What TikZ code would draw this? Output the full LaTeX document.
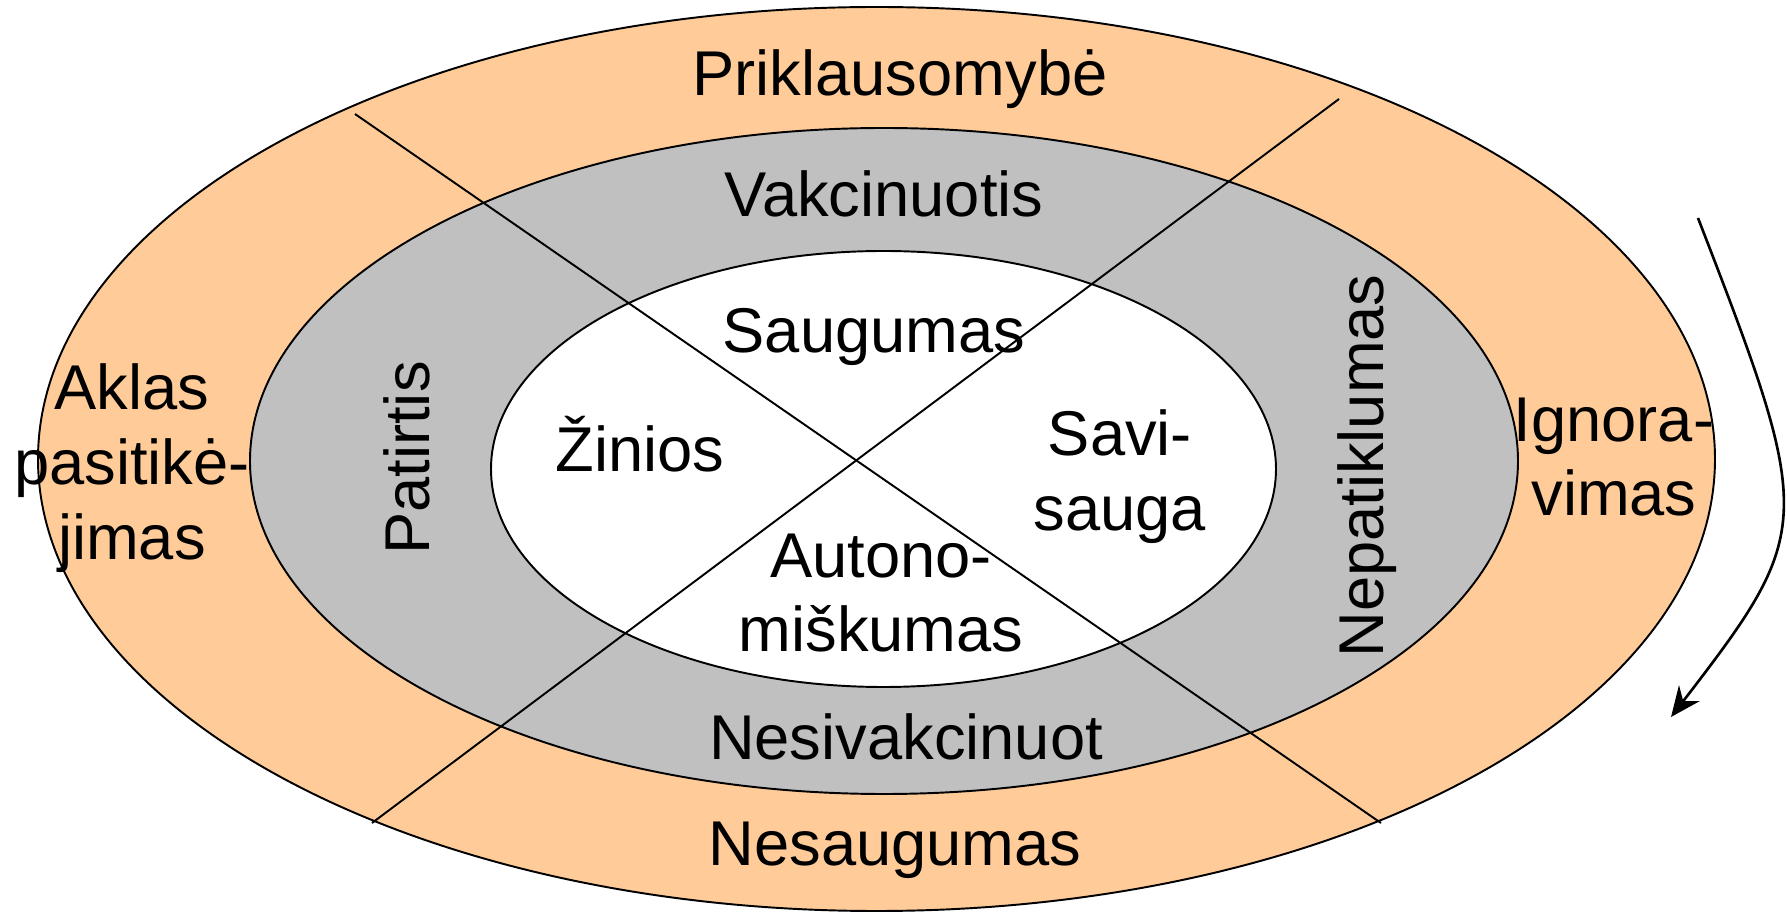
\documentclass[tikz,border=0pt]{standalone}
\usepackage{fontspec}
\setmainfont{Liberation Sans}
\usetikzlibrary{arrows.meta}
\definecolor{peach}{HTML}{FFCC99}
\definecolor{ringgray}{HTML}{C0C0C0}
\begin{document}
\begin{tikzpicture}[x=0.1mm,y=-0.1mm,
  ring/.style={draw=black,line width=0.55pt},
  divider/.style={draw=black,line width=0.55pt},
  cycle arrow/.style={draw=black,line width=0.75pt,-{Stealth[length=3mm,width=2.6mm,inset=1mm]}},
  lbl/.style={font=\fontsize{18}{21.3}\selectfont, inner sep=0pt, align=center, text=black},
  ]
\useasboundingbox (0,0) rectangle (1787,912);
\fill[white] (0,0) rectangle (1787,912);
% rings
\draw[ring, fill=peach] (876.5,459) ellipse [x radius=838.5, y radius=452];
\draw[ring, fill=ringgray] (884,461) ellipse [x radius=634, y radius=333];
\draw[ring, fill=white] (883.5,469) ellipse [x radius=392.5, y radius=218];
% dividers
\coordinate (L1a) at (355,114);
\coordinate (L1b) at (1381,823);
\coordinate (L2a) at (1339,99);
\coordinate (L2b) at (372,823);
\draw[divider] (L1a) -- (L1b);
\draw[divider] (L2a) -- (L2b);
% arrow
\coordinate (arrS) at (1698,218);
\coordinate (arrE) at (1671,717);
\draw[cycle arrow] (arrS) .. controls (1815,520) and (1815,530) .. (arrE);
% labels
\node[lbl, anchor=base] (prikl) at (900,96) {Priklausomybė};
\node[lbl, anchor=base] (vakc) at (884,217) {Vakcinuotis};
\node[lbl, anchor=base] (saug) at (874,353) {Saugumas};
\node[lbl, anchor=base] (zin) at (640,472) {Žinios};
\node[lbl] (savi) at (1120,477) {Savi-\\sauga};
\node[lbl] (auto) at (881,593) {Autono-\\miškumas};
\node[lbl, anchor=base] (nesiv) at (906,760) {Nesivakcinuot};
\node[lbl, anchor=base] (nesaug) at (895,866) {Nesaugumas};
\node[lbl] (aklas) at (132,468) {Aklas\\pasitikė-\\jimas};
\node[lbl] (ignor) at (1614,457) {Ignora-\\vimas};
\node[lbl, anchor=base, rotate=90] (pat) at (429,458) {Patirtis};
\node[lbl, anchor=base, rotate=90] (nepat) at (1383,466) {Nepatiklumas};
\end{tikzpicture}
\end{document}
